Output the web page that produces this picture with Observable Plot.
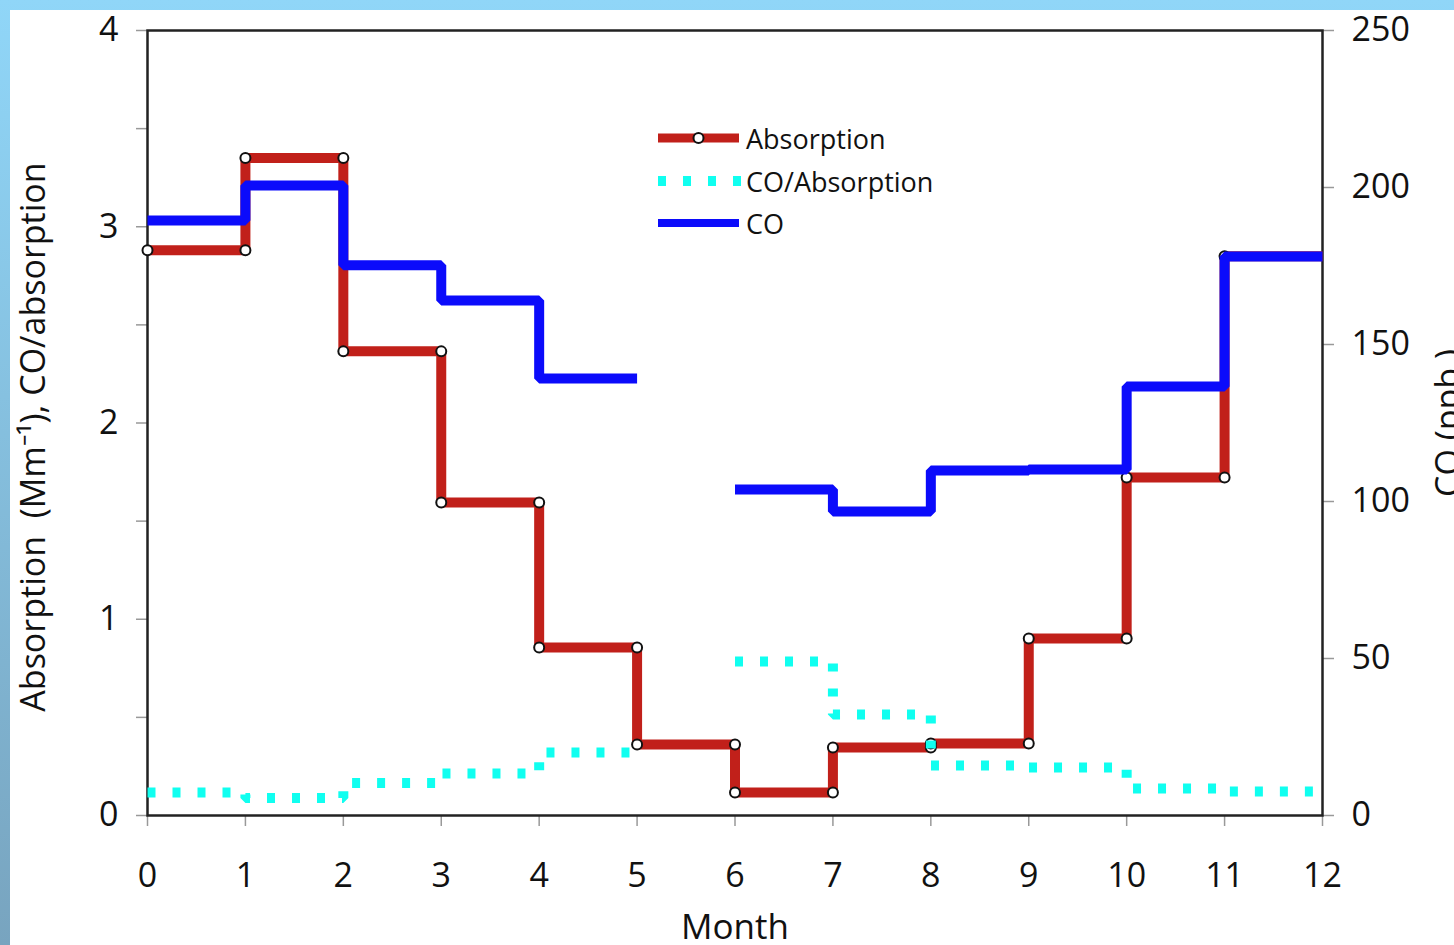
<!DOCTYPE html>
<html><head><meta charset="utf-8">
<script src="https://cdn.jsdelivr.net/npm/d3@7"></script>
<script src="https://cdn.jsdelivr.net/npm/@observablehq/plot@0.6"></script>
<style>
html,body{margin:0;padding:0;}
body{width:1454px;height:945px;overflow:hidden;position:relative;background:linear-gradient(to bottom,#90d6f8,#78a4bf);font-family:"Open Sans",sans-serif;}
#paper{position:absolute;left:10px;top:10px;right:0;bottom:0;background:#fff;}
#chart{position:absolute;left:0;top:0;}
#legend{position:absolute;left:0;top:0;pointer-events:none;}
</style></head><body>
<div id="paper"></div>
<div id="chart"></div>
<svg id="legend" width="1454" height="945"></svg>
<script>
// ---- data ----
const months = [0,1,2,3,4,5,6,7,8,9,10,11];
const absorption = [2.88, 3.35, 2.365, 1.595, 0.856, 0.362, 0.117, 0.346, 0.367, 0.902, 1.722, 2.85];
const co = [189.5, 200.6, 175.2, 164.0, 139.2, null, 103.8, 96.8, 109.9, 110.2, 136.6, 178.0];
const coAbsRatio = [0.117, 0.089, 0.165, 0.214, 0.321, null, 0.785, 0.515, 0.255, 0.245, 0.138, 0.122];
const monthTicks = [0,1,2,3,4,5,6,7,8,9,10,11,12];
const leftTicks = [0,0.5,1,1.5,2,2.5,3,3.5,4];
const coTicks = [0,50,100,150,200,250];
const leftMax = 4, coMax = 250;
const seriesNames = ["Absorption","CO/Absorption","CO"];
const colors = {abs:"#c1201a", ratio:"#10fff0", co:"#0b0bfb"};
const xLabel = "Month";
const yLabel = "Absorption\u00a0 (Mm\u207b\u00b9), CO/absorption";
const y2Label = "CO (ppb )";

// ---- helpers ----
const toLeft = v => v * leftMax / coMax;
function steps(vals, f = v => v) {
  const pts = [];
  vals.forEach((v, i) => {
    if (v == null) pts.push({x: months[i], y: NaN});
    else pts.push({x: months[i], y: f(v)}, {x: months[i] + 1, y: f(v)});
  });
  return pts;
}
const absDots = [];
months.forEach((m, i) => {
  if (i > 0) absDots.push({x: m, y: absorption[i - 1]});
  absDots.push({x: m, y: absorption[i]});
});

const lineOpts = {x: "x", y: "y", strokeWidth: 10, strokeLinejoin: "miter", strokeLinecap: "butt"};

const chart = Plot.plot({
  width: 1454, height: 945,
  marginLeft: 147, marginRight: 132, marginTop: 30, marginBottom: 130,
  x: {domain: [0, 12]},
  y: {domain: [0, leftMax]},
  style: {fontFamily: '"Open Sans", sans-serif', fontSize: "34px", background: "transparent", overflow: "visible", color: "#111"},
  marks: [
    Plot.axisX({ticks: monthTicks, tickSize: 11, tickPadding: 36, stroke: "#999", strokeWidth: 1.5, fill: "#111", fontSize: 34, label: null}),
    Plot.axisY({ticks: leftTicks, tickSize: 11, tickPadding: 18, stroke: "#999", strokeWidth: 1.5, fill: "#111", fontSize: 34, label: null,
      tickFormat: d => Number.isInteger(d) ? String(d) : ""}),
    Plot.axisY({anchor: "right", ticks: coTicks.map(toLeft), tickSize: 11, tickPadding: 18, stroke: "#999", strokeWidth: 1.5, fill: "#111", fontSize: 34, label: null,
      tickFormat: d => String(Math.round(d * coMax / leftMax))}),
    Plot.frame({stroke: "#222", strokeWidth: 2.5}),
    Plot.line(steps(absorption), {...lineOpts, stroke: colors.abs}),
    Plot.dot(absDots, {x: "x", y: "y", r: 5, fill: "white", stroke: "#111", strokeWidth: 2}),
    Plot.line(steps(coAbsRatio), {...lineOpts, stroke: colors.ratio, strokeDasharray: "8,17"}),
    Plot.line(steps(co, toLeft), {...lineOpts, stroke: colors.co}),
    Plot.text([xLabel], {text: d => d, frameAnchor: "bottom", textAnchor: "middle", lineAnchor: "middle", dy: 112, fontSize: 35, fill: "#111"}),
    Plot.text([yLabel], {text: d => d, frameAnchor: "left", textAnchor: "middle", lineAnchor: "middle", rotate: -90, dx: -113, dy: 14, fontSize: 34, fill: "#111"}),
    Plot.text([y2Label], {text: d => d, frameAnchor: "right", textAnchor: "middle", lineAnchor: "middle", rotate: -90, dx: 127, fontSize: 34, fill: "#111"})
  ]
});
document.getElementById("chart").appendChild(chart);

// ---- legend ----
const lg = d3.select("#legend");
const lx0 = 658, lx1 = 739, tx = 746, rows = [138, 181, 223];
lg.append("line").attr("x1", lx0).attr("x2", lx1).attr("y1", rows[0]).attr("y2", rows[0])
  .attr("stroke", colors.abs).attr("stroke-width", 9);
lg.append("circle").attr("cx", (lx0 + lx1) / 2).attr("cy", rows[0]).attr("r", 5)
  .attr("fill", "white").attr("stroke", "#111").attr("stroke-width", 2);
lg.append("line").attr("x1", lx0).attr("x2", lx1 + 2).attr("y1", rows[1]).attr("y2", rows[1])
  .attr("stroke", colors.ratio).attr("stroke-width", 10).attr("stroke-dasharray", "8,17");
lg.append("line").attr("x1", lx0).attr("x2", lx1).attr("y1", rows[2]).attr("y2", rows[2])
  .attr("stroke", colors.co).attr("stroke-width", 8);
seriesNames.forEach((s, i) => {
  lg.append("text").attr("x", tx).attr("y", rows[i] + 2).attr("dy", "0.35em")
    .attr("font-family", '"Open Sans", sans-serif').attr("font-size", 27).attr("fill", "#111").text(s);
});
</script>
</body></html>
